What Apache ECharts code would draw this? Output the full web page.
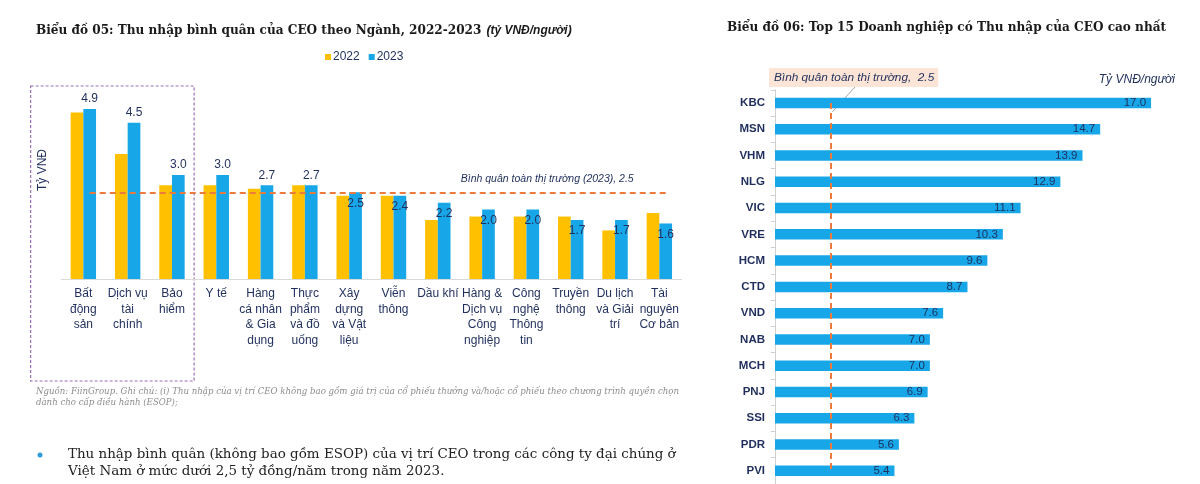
<!DOCTYPE html>
<html>
<head>
<meta charset="utf-8">
<script src="https://cdn.jsdelivr.net/npm/echarts@6/dist/echarts.min.js"></script>
<style>
html,body{margin:0;padding:0;background:#fff;}
#c{width:1200px;height:484px;}
</style>
</head>
<body>
<div id="c"></div>
<script>
// ---- Chart 05 data ----
const sectors = ['Bất\nđộng\nsản', 'Dịch vụ\ntài\nchính', 'Bảo\nhiểm', 'Y tế', 'Hàng\ncá nhân\n& Gia\ndụng', 'Thực\nphẩm\nvà đồ\nuống', 'Xây\ndựng\nvà Vật\nliệu', 'Viễn\nthông', 'Dầu khí', 'Hàng &\nDịch vụ\nCông\nnghiệp', 'Công\nnghệ\nThông\ntin', 'Truyền\nthông', 'Du lịch\nvà Giải\ntrí', 'Tài\nnguyên\nCơ bản'];
const income2022 = [4.8, 3.6, 2.7, 2.7, 2.6, 2.7, 2.4, 2.4, 1.7, 1.8, 1.8, 1.8, 1.4, 1.9];
const income2023 = [4.9, 4.5, 3.0, 3.0, 2.7, 2.7, 2.5, 2.4, 2.2, 2.0, 2.0, 1.7, 1.7, 1.6];
const marketAvg2023 = 2.5;
const seriesNames = ['2022', '2023'];

// ---- Chart 06 data ----
const companies = ['KBC', 'MSN', 'VHM', 'NLG', 'VIC', 'VRE', 'HCM', 'CTD', 'VND', 'NAB', 'MCH', 'PNJ', 'SSI', 'PDR', 'PVI'];
const ceoIncome = [17.0, 14.7, 13.9, 12.9, 11.1, 10.3, 9.6, 8.7, 7.6, 7.0, 7.0, 6.9, 6.3, 5.6, 5.4];
const marketAvg = 2.5;

// ---- Texts ----
const title05 = 'Biểu đồ 05: Thu nhập bình quân của CEO theo Ngành, 2022-2023';
const title05Unit = '(tỷ VNĐ/người)';
const title06 = 'Biểu đồ 06: Top 15 Doanh nghiệp có Thu nhập của CEO cao nhất';
const avgLabel05 = 'Bình quân toàn thị trường (2023), ';
const avgLabel06 = 'Bình quân toàn thị trường,  ';
const unit06 = 'Tỷ VNĐ/người';
const yName05 = 'Tỷ VNĐ';
const note1 = 'Nguồn: FiinGroup. Ghi chú: (i) Thu nhập của vị trí CEO không bao gồm giá trị của cổ phiếu thưởng và/hoặc cổ phiếu theo chương trình quyền chọn';
const note2 = 'dành cho cấp điều hành (ESOP);';
const bullet1 = 'Thu nhập bình quân (không bao gồm ESOP) của vị trí CEO trong các công ty đại chúng ở';
const bullet2 = 'Việt Nam ở mức dưới 2,5 tỷ đồng/năm trong năm 2023.';

const NAVY = '#1F2E5C';
const YEL = '#FFC000';
const BLUE = '#17A7E8';
const ORANGE = '#EC7A3C';
const SANS = '"Liberation Sans", Arial, sans-serif';
const SERIF = '"DejaVu Serif", serif';

const chart = echarts.init(document.getElementById('c'), null, {renderer: 'canvas'});

const insideFrom = 6;

const option = {
  animation: false,
  backgroundColor: '#fff',
  title: [
    {
      left: 36, top: 22, padding: 0,
      text: '{b|' + title05 + '} {i|' + title05Unit + '}',
      textStyle: {
        rich: {
          b: {fontFamily: SERIF, fontWeight: 'bold', fontSize: 12.1, color: '#1a1a1a'},
          i: {fontFamily: SANS, fontStyle: 'italic', fontSize: 12, color: '#1a1a1a'}
        }
      }
    },
    {
      left: 727, top: 22, padding: 0,
      text: title06,
      textStyle: {fontFamily: SERIF, fontWeight: 'bold', fontSize: 12.1, color: '#1a1a1a'}
    }
  ],
  legend: {
    left: 320, top: 46,
    data: seriesNames,
    icon: 'rect', itemWidth: 6, itemHeight: 6, itemGap: 9,
    textStyle: {fontFamily: SANS, fontSize: 12, color: NAVY, padding: [0, 0, 0, -3]}
  },
  grid: [
    {left: 61.2, top: 105.5, width: 620.3, height: 173.5},
    {left: 775, top: 89.8, width: 398.2, height: 396.4}
  ],
  xAxis: [
    {
      gridIndex: 0, type: 'category', data: sectors,
      axisLine: {lineStyle: {color: '#D9D9D9', width: 1}},
      axisTick: {show: false},
      axisLabel: {fontFamily: SANS, fontSize: 12, color: NAVY, lineHeight: 15.5, margin: 7, interval: 0}
    },
    {
      gridIndex: 1, type: 'value', min: 0, max: 18, show: false
    }
  ],
  yAxis: [
    {gridIndex: 0, type: 'value', min: 0, max: 5, show: false},
    {
      gridIndex: 1, type: 'category', data: companies, inverse: true,
      axisLine: {lineStyle: {color: '#D0D0D0', width: 1}},
      axisTick: {show: true, length: 4, lineStyle: {color: '#D0D0D0'}},
      axisLabel: {fontFamily: SANS, fontSize: 11.5, fontWeight: 'bold', color: NAVY, margin: 10}
    }
  ],
  series: [
    {
      name: seriesNames[0], type: 'bar', xAxisIndex: 0, yAxisIndex: 0,
      data: income2022, barWidth: 12.7, barGap: '0%',
      itemStyle: {color: YEL}
    },
    {
      name: seriesNames[1], type: 'bar', xAxisIndex: 0, yAxisIndex: 0,
      data: income2023.map((v, i) => ({
        value: v,
        label: i < insideFrom ? {position: 'top', distance: 4} : {position: 'insideTop', distance: 5}
      })),
      barWidth: 12.7,
      itemStyle: {color: BLUE},
      label: {
        show: true, fontFamily: SANS, fontSize: 12, color: NAVY,
        formatter: p => p.value.toFixed(1)
      },
      markLine: {
        silent: true, symbol: 'none',
        lineStyle: {color: ORANGE, type: [6, 4], width: 2},
        label: {
          show: true, position: 'insideEndTop', distance: 8,
          fontFamily: SANS, fontStyle: 'italic', fontSize: 10.5, color: NAVY,
          padding: [0, 24, 0, 0],
          formatter: avgLabel05 + marketAvg2023.toFixed(1)
        },
        data: [[{coord: [0, marketAvg2023]}, {coord: [sectors.length - 1, marketAvg2023]}]]
      }
    },
    {
      name: 'top15', type: 'bar', xAxisIndex: 1, yAxisIndex: 1,
      data: ceoIncome, barWidth: 10.5,
      itemStyle: {color: BLUE},
      label: {
        show: true, position: 'insideRight', distance: 5,
        fontFamily: SANS, fontSize: 11.5, color: NAVY,
        formatter: p => p.value.toFixed(1)
      },
      markLine: {
        silent: true, symbol: 'none', z: 10,
        lineStyle: {color: ORANGE, type: [6, 4], width: 2},
        label: {show: false},
        data: [[{coord: [marketAvg, companies[0]]}, {coord: [marketAvg, companies[companies.length - 1]]}]]
      }
    }
  ],
  graphic: []
};

chart.setOption(option);

// decorations positioned from the chart's own scales
const p0 = chart.convertToPixel({gridIndex: 0}, [0, 0]);
const p2 = chart.convertToPixel({gridIndex: 0}, [2, 0]);
const band = chart.convertToPixel({gridIndex: 0}, [1, 0])[0] - p0[0];
const avgTop = chart.convertToPixel({gridIndex: 1}, [marketAvg, companies[0]]);

chart.setOption({
  graphic: [
    {
      type: 'rect', silent: true,
      shape: {x: p0[0] - band * 1.19, y: 86, width: (p2[0] - p0[0]) + band * 1.69, height: 295},
      style: {fill: 'none', stroke: '#9B6FB5', lineWidth: 1.2, lineDash: [3, 2]}
    },
    {
      type: 'text', silent: true, x: 43, y: 170, rotation: Math.PI / 2,
      style: {text: yName05, font: '12px ' + SANS, fill: NAVY, textAlign: 'center', textVerticalAlign: 'middle'}
    },
    {
      type: 'text', silent: true, x: 36, y: 392,
      style: {text: note1, font: 'italic 8.6px ' + SERIF, fill: '#8C8C8C', textVerticalAlign: 'middle'}
    },
    {
      type: 'text', silent: true, x: 36, y: 403,
      style: {text: note2, font: 'italic 8.6px ' + SERIF, fill: '#8C8C8C', textVerticalAlign: 'middle'}
    },
    {
      type: 'circle', silent: true, shape: {cx: 40, cy: 455, r: 2.5},
      style: {fill: '#2E9BD6'}
    },
    {
      type: 'text', silent: true, x: 68, y: 455,
      style: {text: bullet1, font: '13.45px ' + SERIF, fill: '#222', textVerticalAlign: 'middle'}
    },
    {
      type: 'text', silent: true, x: 68, y: 472,
      style: {text: bullet2, font: '13.45px ' + SERIF, fill: '#222', textVerticalAlign: 'middle'}
    },
    {
      type: 'line', silent: true,
      shape: {x1: 855, y1: 87, x2: avgTop[0] + 2, y2: avgTop[1] + 9},
      style: {stroke: '#A6A6A6', lineWidth: 1}
    },
    {
      type: 'text', silent: true, x: 769, y: 68,
      style: {
        text: avgLabel06 + marketAvg.toFixed(1),
        font: 'italic 11.8px ' + SANS, fill: NAVY,
        backgroundColor: '#FCE4D6', padding: [4, 4, 3, 5]
      }
    },
    {
      type: 'text', silent: true, x: 1175, y: 80,
      style: {text: unit06, font: 'italic 12px ' + SANS, fill: NAVY, textAlign: 'right', textVerticalAlign: 'middle'}
    }
  ]
});
</script>
</body>
</html>
